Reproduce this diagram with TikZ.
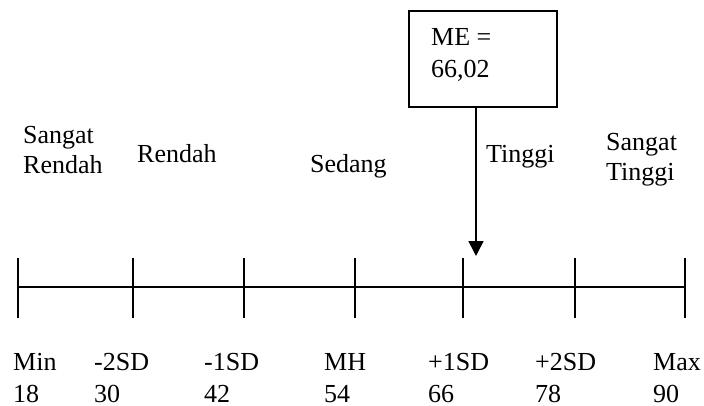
\documentclass[tikz,border=0pt]{standalone}
\usepackage{fontspec}
\setmainfont{Liberation Serif}
\usetikzlibrary{arrows.meta}
\begin{document}
\begin{tikzpicture}[x=1pt,y=-1pt,
  lbl/.style={anchor=base west,inner sep=0pt,font=\fontsize{26}{30}\selectfont},
  ln/.style={line width=1.6pt,black},
  tickmark/.style={line width=1.5pt,black},
  mebox/.style={draw,line width=1.6pt,minimum width=148pt,minimum height=96pt,inner sep=0pt},
  pointer/.style={line width=1.6pt,-{Triangle[length=15pt,width=15pt]}}]
\useasboundingbox (0,0) rectangle (704,405);
% axis ticks
\coordinate (t0) at (18,287);
\coordinate (t1) at (133,287);
\coordinate (t2) at (244,287);
\coordinate (t3) at (355,287);
\coordinate (t4) at (463,287);
\coordinate (t5) at (575,287);
\coordinate (t6) at (685,287);
\draw[ln] (t0) -- (t6);
\foreach \t in {t0,t1,t2,t3,t4,t5,t6}
  \draw[tickmark] ([yshift=-31pt]\t) -- ([yshift=29pt]\t);
% ME box
\node[mebox] (me) at (483,59) {};
\node[lbl] (me1) at (431,45) {ME =};
\node[lbl] (me2) at (431,77) {66,02};
\coordinate (tip) at (476,256);
\draw[pointer] (me.south -| tip) -- (tip);
% category labels
\node[lbl] (sr1) at (23,143) {Sangat};
\node[lbl] (sr2) at (23,173) {Rendah};
\node[lbl] (r) at (137,162) {Rendah};
\node[lbl] (s) at (310,172) {Sedang};
\node[lbl] (t) at (486,162) {Tinggi};
\node[lbl] (st1) at (606,150) {Sangat};
\node[lbl] (st2) at (606,180) {Tinggi};
% bottom labels
\node[lbl] (l0) at (13,370) {Min};
\node[lbl] (l1) at (94,370) {-2SD};
\node[lbl] (l2) at (204,370) {-1SD};
\node[lbl] (l3) at (324,370) {MH};
\node[lbl] (l4) at (428,370) {+1SD};
\node[lbl] (l5) at (535,370) {+2SD};
\node[lbl] (l6) at (653,370) {Max};
\node[lbl] (n0) at (13,402) {18};
\node[lbl] (n1) at (94,402) {30};
\node[lbl] (n2) at (204,402) {42};
\node[lbl] (n3) at (324,402) {54};
\node[lbl] (n4) at (428,402) {66};
\node[lbl] (n5) at (535,402) {78};
\node[lbl] (n6) at (653,402) {90};
\end{tikzpicture}
\end{document}
